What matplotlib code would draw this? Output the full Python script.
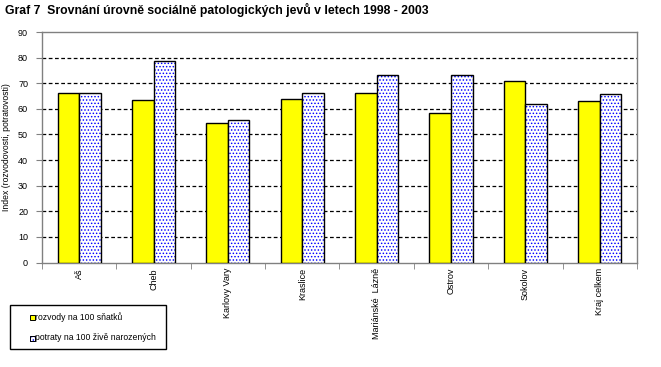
import numpy as np
import matplotlib
matplotlib.use('Agg')
import matplotlib.pyplot as plt
from matplotlib.patches import Rectangle

plt.rcParams['font.family'] = ['Liberation Sans', 'DejaVu Sans']
plt.rcParams['hatch.linewidth'] = 0.65

# data
okresy = ['Aš', 'Cheb', 'Karlovy Vary', 'Kraslice', 'Mariánské  Lázně',
          'Ostrov', 'Sokolov', 'Kraj celkem']
rozvody = [66.3, 63.4, 54.4, 63.7, 66.3, 58.3, 70.8, 63.0]
potraty = [66.3, 78.8, 55.5, 66.3, 73.1, 73.4, 61.8, 65.7]
yticks = [0, 10, 20, 30, 40, 50, 60, 70, 80, 90]
serie = ['rozvody na 100 sňatků', 'potraty na 100 živě narozených']

fig = plt.figure(figsize=(6.61, 3.67), dpi=100)
ax = fig.add_axes([0.0635, 0.2847, 0.9002, 0.6281])

x = np.arange(len(okresy))
w = 0.29

# yellow bars
ax.bar(x - w / 2, rozvody, w, color='#FFFF00', edgecolor='black', linewidth=1, zorder=3)
# dotted bars: hatch in blue, then black outline on top
ax.bar(x + w / 2, potraty, w, color='white', edgecolor='blue', hatch='.....',
       linewidth=0, zorder=3)
ax.bar(x + w / 2, potraty, w, fill=False, edgecolor='black', linewidth=1, zorder=4)

ax.set_xlim(-0.5, len(okresy) - 0.5)
ax.set_ylim(0, 90)
ax.set_yticks(yticks)
ax.set_yticklabels([str(t) for t in yticks], fontsize=6.5)
for t in yticks[1:-1]:
    ax.axhline(t, color='black', linestyle=(0, (3, 2)), linewidth=0.9, zorder=1)

ax.set_xticks(x)
ax.set_xticklabels(okresy, rotation=90, fontsize=6.5, va='top')
ax.set_xticks(np.arange(len(okresy) + 1) - 0.5, minor=True)
ax.tick_params(axis='x', which='major', length=0, pad=4)
ax.tick_params(axis='x', which='minor', length=4, color='gray')
ax.tick_params(axis='y', length=4, color='gray', pad=6)

for s in ax.spines.values():
    s.set_color('gray')
    s.set_linewidth(1)

ax.set_ylabel('Index (rozvodovosti, potratovosti)', fontsize=6.2, labelpad=5)

fig.text(0.008, 0.972, 'Graf 7  Srovnání úrovně sociálně patologických jevů v letech 1998 - 2003',
         fontsize=8.8, fontweight='bold', va='center', ha='left')

# legend box drawn by hand (Excel style)
def fx(px):
    return px / 661

def fy(py):
    return 1 - py / 367

fig.add_artist(Rectangle((fx(9.5), fy(348.5)), fx(157), 43.5 / 367, transform=fig.transFigure,
                         fill=False, edgecolor='black', linewidth=1))
fig.add_artist(Rectangle((fx(30), fy(320)), fx(5), 5 / 367, transform=fig.transFigure,
                         facecolor='#FFFF00', edgecolor='black', linewidth=0.7))
fig.add_artist(Rectangle((fx(30), fy(340.5)), fx(5), 5 / 367, transform=fig.transFigure,
                         facecolor='white', edgecolor='blue', hatch='.....', linewidth=0.7))
fig.add_artist(Rectangle((fx(30), fy(340.5)), fx(5), 5 / 367, transform=fig.transFigure,
                         fill=False, edgecolor='black', linewidth=0.7))
fig.text(fx(35), fy(317.5), serie[0], fontsize=6.2, va='center', ha='left')
fig.text(fx(35), fy(338), serie[1], fontsize=6.2, va='center', ha='left')

fig.savefig('out.png', dpi=100)
